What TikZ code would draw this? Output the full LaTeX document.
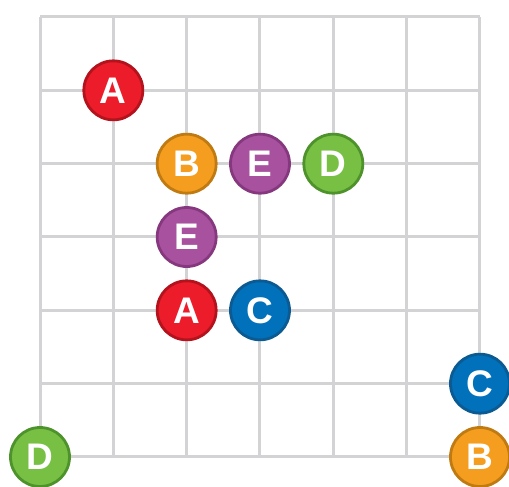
\documentclass[tikz,border=0pt]{standalone}
\usepackage{fontspec}
\setmainfont{Liberation Sans}
\definecolor{gridc}{HTML}{D3D3D5}
\definecolor{redF}{HTML}{EC1C2A}\definecolor{redB}{HTML}{B3131D}
\definecolor{orF}{HTML}{F59D1E}\definecolor{orB}{HTML}{C07A12}
\definecolor{puF}{HTML}{A8519F}\definecolor{puB}{HTML}{86387E}
\definecolor{grF}{HTML}{77C043}\definecolor{grB}{HTML}{4E922C}
\definecolor{blF}{HTML}{0071BA}\definecolor{blB}{HTML}{0B5A92}
\tikzset{
  ball/.style={circle, minimum size=59pt, inner sep=0pt, line width=2.8pt, text=white, font=\fontsize{37}{37}\selectfont\bfseries},
  ballA/.style={ball, fill=redF, draw=redB},
  ballB/.style={ball, fill=orF, draw=orB},
  ballC/.style={ball, fill=blF, draw=blB},
  ballD/.style={ball, fill=grF, draw=grB},
  ballE/.style={ball, fill=puF, draw=puB},
  gridline/.style={draw=gridc, line width=3pt}
}
\begin{document}
\begin{tikzpicture}[x=1pt,y=-1pt]
\useasboundingbox (0,0) rectangle (509,487);
\foreach \i in {0,...,6} {
  \draw[gridline] ({40+73.33*\i},17) -- ({40+73.33*\i},457);
  \draw[gridline] (40,{17+73.33*\i}) -- (480,{17+73.33*\i});
}
\newcommand{\gx}[1]{40+73.33*#1}
\newcommand{\gy}[1]{457-73.33*#1}
\node[ballA] (a1) at ({\gx{1}},{\gy{5}}) {A};
\node[ballB] (b1) at ({\gx{2}},{\gy{4}}) {B};
\node[ballE] (e1) at ({\gx{3}},{\gy{4}}) {E};
\node[ballD] (d1) at ({\gx{4}},{\gy{4}}) {D};
\node[ballE] (e2) at ({\gx{2}},{\gy{3}}) {E};
\node[ballA] (a2) at ({\gx{2}},{\gy{2}}) {A};
\node[ballC] (c1) at ({\gx{3}},{\gy{2}}) {C};
\node[ballC] (c2) at ({\gx{6}},{\gy{1}}) {C};
\node[ballD] (d2) at ({\gx{0}},{\gy{0}}) {D};
\node[ballB] (b2) at ({\gx{6}},{\gy{0}}) {B};
\end{tikzpicture}
\end{document}
